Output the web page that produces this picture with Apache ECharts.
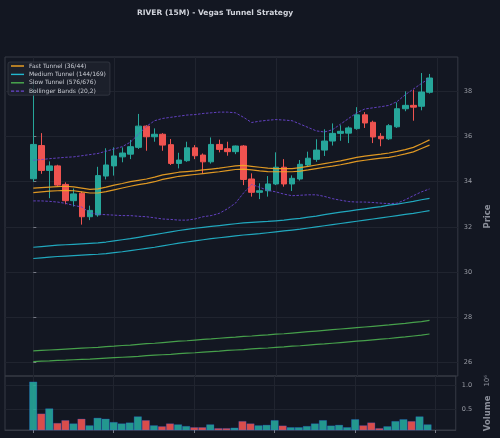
<!DOCTYPE html>
<html><head><meta charset="utf-8">
<script src="https://cdn.jsdelivr.net/npm/echarts@6/dist/echarts.min.js"></script>
<style>html,body{margin:0;padding:0;background:#131722;}#c{width:500px;height:438px;}</style>
</head><body><div id="c"></div>
<script>
// ---- data ----
const opens  = [34.13,35.6,34.5,34.7,33.88,33.16,33.49,32.45,32.53,34.25,34.7,35.1,35.22,35.52,36.46,35.99,36.1,35.64,34.81,34.93,35.5,35.18,34.88,35.65,35.46,35.33,35.58,34.12,33.53,33.6,33.9,34.64,33.9,34.12,34.74,34.99,35.4,35.8,36.14,36.15,36.35,36.96,36.63,36.01,35.9,36.43,37.23,37.38,37.34,37.96];
const highs  = [38.4,36.15,34.9,34.75,33.97,33.7,33.56,32.94,34.66,35.48,35.52,35.52,35.85,37.0,36.5,36.36,36.15,35.89,35.28,35.77,35.62,35.25,35.96,35.86,35.77,35.6,35.62,34.37,33.93,34.25,35.3,35.0,34.28,34.96,35.33,35.88,36.32,36.58,36.5,36.45,37.3,37.08,36.7,36.15,36.55,37.51,38.0,38.07,38.81,38.77];
const lows   = [34.0,34.35,33.27,33.8,33.0,32.9,32.1,32.3,32.45,34.1,34.27,34.86,35.0,35.45,35.37,35.77,35.37,34.74,34.59,34.88,35.0,34.37,34.8,35.3,35.15,35.22,33.85,33.34,33.23,33.34,33.85,33.78,33.59,34.05,34.67,34.88,35.14,35.6,35.81,35.71,36.3,36.38,35.71,35.57,35.85,36.38,37.12,36.7,37.16,37.9];
const closes = [35.65,34.5,34.7,33.85,33.16,33.46,32.45,32.73,34.27,34.74,35.14,35.27,35.55,36.46,35.99,36.1,35.62,34.81,34.96,35.5,35.15,34.88,35.65,35.43,35.33,35.58,34.1,33.53,33.6,33.9,34.64,33.9,34.15,34.77,35.04,35.4,35.8,36.14,36.23,36.38,36.96,36.6,35.98,35.9,36.48,37.23,37.38,37.3,37.97,38.59];
const volumes = [1.08,0.40,0.51,0.20,0.26,0.19,0.29,0.15,0.31,0.29,0.22,0.19,0.21,0.34,0.26,0.15,0.13,0.19,0.17,0.135,0.11,0.11,0.17,0.09,0.09,0.10,0.24,0.19,0.15,0.16,0.26,0.145,0.11,0.11,0.135,0.19,0.26,0.145,0.16,0.11,0.28,0.15,0.21,0.09,0.13,0.24,0.28,0.24,0.34,0.17];

const fastA = [33.72,33.74,33.76,33.78,33.8,33.77,33.72,33.66,33.68,33.76,33.85,33.92,34.0,34.06,34.12,34.2,34.3,34.36,34.42,34.45,34.48,34.52,34.56,34.6,34.65,34.7,34.72,34.68,34.64,34.6,34.58,34.58,34.58,34.62,34.68,34.74,34.8,34.86,34.92,35.0,35.08,35.13,35.18,35.22,35.27,35.34,35.42,35.52,35.68,35.85];
const fastB = [33.52,33.55,33.58,33.6,33.62,33.6,33.55,33.5,33.5,33.56,33.64,33.72,33.8,33.87,33.93,34.0,34.1,34.17,34.24,34.28,34.32,34.36,34.4,34.44,34.49,34.54,34.56,34.52,34.48,34.45,34.44,34.44,34.44,34.47,34.52,34.58,34.64,34.69,34.75,34.82,34.9,34.95,35.0,35.04,35.08,35.15,35.23,35.32,35.47,35.62];
const medA = [31.1,31.13,31.16,31.19,31.21,31.23,31.25,31.27,31.29,31.33,31.38,31.43,31.48,31.54,31.6,31.66,31.72,31.78,31.84,31.89,31.94,31.98,32.02,32.06,32.1,32.14,32.18,32.2,32.22,32.24,32.27,32.3,32.34,32.38,32.43,32.48,32.54,32.6,32.65,32.7,32.75,32.8,32.85,32.9,32.96,33.01,33.07,33.13,33.2,33.26];
const medB = [30.6,30.63,30.66,30.69,30.71,30.73,30.75,30.77,30.79,30.82,30.86,30.9,30.95,31.0,31.05,31.1,31.16,31.22,31.28,31.33,31.38,31.43,31.48,31.52,31.56,31.6,31.64,31.67,31.7,31.74,31.78,31.82,31.86,31.9,31.95,32.0,32.05,32.1,32.15,32.2,32.25,32.3,32.35,32.4,32.45,32.5,32.55,32.6,32.66,32.72];
const slowA = [26.51,26.53,26.55,26.57,26.59,26.61,26.63,26.65,26.67,26.7,26.72,26.75,26.77,26.8,26.83,26.85,26.88,26.91,26.94,26.96,26.99,27.02,27.04,27.07,27.1,27.12,27.15,27.17,27.2,27.22,27.25,27.27,27.3,27.33,27.36,27.39,27.42,27.45,27.48,27.51,27.54,27.57,27.6,27.63,27.66,27.7,27.73,27.77,27.81,27.86];
const slowB = [26.04,26.06,26.07,26.09,26.1,26.12,26.14,26.15,26.17,26.19,26.21,26.23,26.25,26.27,26.3,26.32,26.34,26.36,26.39,26.41,26.43,26.46,26.48,26.5,26.53,26.55,26.57,26.6,26.62,26.64,26.67,26.69,26.72,26.74,26.77,26.8,26.82,26.85,26.88,26.91,26.94,26.97,27.0,27.03,27.06,27.1,27.13,27.17,27.21,27.26];
const bbUpper = [34.95,34.98,35.02,35.05,35.08,35.1,35.15,35.2,35.25,35.35,35.45,35.55,35.75,36.1,36.45,36.7,36.8,36.85,36.9,36.95,36.97,37.02,37.05,37.08,37.08,37.05,36.85,36.62,36.68,36.72,36.75,36.73,36.7,36.55,36.4,36.25,36.2,36.3,36.55,36.8,37.05,37.22,37.27,37.32,37.38,37.55,37.85,38.1,38.35,38.58];
const bbLower = [33.15,33.15,33.13,33.1,33.04,32.95,32.88,32.62,32.56,32.54,32.52,32.5,32.5,32.47,32.45,32.4,32.35,32.33,32.3,32.3,32.35,32.45,32.5,32.6,32.8,33.05,33.5,33.88,33.75,33.62,33.55,33.45,33.38,33.4,33.42,33.42,33.35,33.25,33.18,33.12,33.1,33.1,33.08,33.05,33.03,33.05,33.2,33.38,33.55,33.68];

const xTicks = [0,10,20,30,40,50];
const priceTicks = [26,28,30,32,34,36,38];
const volTicks = [0.5,1.0];

const titleText = 'RIVER (15M) - Vegas Tunnel Strategy';
const nFast = 'Fast Tunnel (36/44)';
const nMed = 'Medium Tunnel (144/169)';
const nSlow = 'Slow Tunnel (576/676)';
const nBB = 'Bollinger Bands (20,2)';

// ---- chart ----
const FONT = 'DejaVu Sans';
const UP = '#26a69a', DOWN = '#ef5350';
const GRIDC = '#20242f', FRAME = '#363a45', LBL = '#9a9da6';
const idx = opens.map((_, i) => i);
const pts = arr => arr.map((v, i) => [i, v]);
const ICON_SOLID = 'path://M0,0H13V1.4H0Z';
const ICON_DASH = 'path://M0,0H3V1.2H0Z M4.6,0H7.6V1.2H4.6Z M9.2,0H12.2V1.2H9.2Z';

function lineSeries(name, arr, color, width, type) {
  return {
    type: 'line', name, data: pts(arr), xAxisIndex: 0, yAxisIndex: 0,
    symbol: 'none', silent: true, z: 4,
    lineStyle: { color, width, opacity: 0.9, type: type || 'solid' },
    itemStyle: { color }
  };
}

const chart = echarts.init(document.getElementById('c'));
chart.setOption({
  backgroundColor: '#131722',
  animation: false,
  textStyle: { fontFamily: FONT },
  title: {
    text: titleText, left: 132, top: 4,
    textStyle: { color: '#d1d4dc', fontSize: 7.5, fontWeight: 'bold', fontFamily: FONT }
  },
  legend: {
    left: 8, top: 62, orient: 'vertical',
    itemWidth: 13, itemHeight: 1.4, itemGap: 1.4,
    padding: [0.5, 4, 0.5, 3],
    backgroundColor: 'rgba(30,34,45,0.85)', borderColor: FRAME, borderWidth: 0.8, borderRadius: 2,
    textStyle: { color: '#c8cbd3', fontSize: 6, fontFamily: FONT, lineHeight: 7 },
    data: [
      { name: nFast, icon: ICON_SOLID },
      { name: nMed, icon: ICON_SOLID },
      { name: nSlow, icon: ICON_SOLID },
      { name: nBB, icon: ICON_DASH }
    ]
  },
  grid: [
    { left: 5, right: 36, top: 57, height: 319, show: true, borderColor: FRAME, borderWidth: 1, backgroundColor: 'transparent' },
    { left: 5, right: 36, top: 376, height: 54, show: true, borderColor: FRAME, borderWidth: 1, backgroundColor: 'transparent' }
  ],
  xAxis: [
    { type: 'value', gridIndex: 0, min: -3.5, max: 52.5,
      axisLine: { show: false }, axisTick: { show: false, customValues: xTicks },
      axisLabel: { show: false, customValues: xTicks },
      splitLine: { show: true, lineStyle: { color: GRIDC, width: 1 } } },
    { type: 'value', gridIndex: 1, min: -3.5, max: 52.5,
      axisLine: { show: true, onZero: false, lineStyle: { color: FRAME } },
      axisTick: { show: true, customValues: xTicks, length: 3, lineStyle: { color: '#787b86' } },
      axisLabel: { show: false, customValues: xTicks },
      splitLine: { show: true, lineStyle: { color: GRIDC, width: 1 } } }
  ],
  yAxis: [
    { type: 'value', gridIndex: 0, position: 'right', min: 25.4, max: 39.52,
      axisLine: { show: false },
      axisTick: { show: true, customValues: priceTicks, length: 3, lineStyle: { color: '#787b86' } },
      axisLabel: { customValues: priceTicks, color: LBL, fontSize: 6.5, margin: 6, fontFamily: FONT, formatter: v => String(v) },
      splitLine: { show: true, lineStyle: { color: GRIDC, width: 1 } },
      name: 'Price', nameLocation: 'middle', nameGap: 18,
      nameTextStyle: { color: '#8a8e99', fontWeight: 'bold', fontSize: 8.5, fontFamily: FONT } },
    { type: 'value', gridIndex: 1, position: 'right', min: 0.05, max: 1.2,
      axisLine: { show: false },
      axisTick: { show: true, customValues: volTicks, length: 3, lineStyle: { color: '#787b86' } },
      axisLabel: { customValues: volTicks, color: LBL, fontSize: 6.5, margin: 6, fontFamily: FONT, formatter: v => v.toFixed(1) },
      splitLine: { show: true, lineStyle: { color: GRIDC, width: 1 } },
      name: '{v|Volume}{n|10⁶}', nameLocation: 'middle', nameGap: 18,
      nameTextStyle: { color: '#8a8e99', fontFamily: FONT,
        rich: { v: { fontWeight: 'bold', fontSize: 8.5, color: '#8a8e99', fontFamily: FONT },
                n: { fontSize: 7, color: '#8a8e99', padding: [0, 0, 0, 9], fontFamily: FONT } } } }
  ],
  series: [
    { type: 'candlestick', name: 'Price', xAxisIndex: 0, yAxisIndex: 0, z: 2,
      data: idx.map(i => [i, opens[i], closes[i], lows[i], highs[i]]),
      encode: { x: 0, y: [1, 2, 3, 4] },
      barWidth: 6,
      itemStyle: { color: UP, color0: DOWN, borderColor: UP, borderColor0: DOWN, borderWidth: 1 } },
    lineSeries(nFast, fastA, '#f5a623', 1.2),
    lineSeries(nFast, fastB, '#f5a623', 1.2),
    lineSeries(nMed, medA, '#22b8cf', 1.2),
    lineSeries(nMed, medB, '#22b8cf', 1.2),
    lineSeries(nSlow, slowA, '#4caf50', 1.2),
    lineSeries(nSlow, slowB, '#4caf50', 1.2),
    lineSeries(nBB, bbUpper, '#6a45d0', 1, [2.5, 1.5]),
    lineSeries(nBB, bbLower, '#6a45d0', 1, [2.5, 1.5]),
    { type: 'bar', name: 'Volume', xAxisIndex: 1, yAxisIndex: 1, barWidth: 8, clip: true,
      data: idx.map(i => ({ value: [i, volumes[i]],
        itemStyle: { color: closes[i] >= opens[i] ? UP : DOWN } })),
      itemStyle: { opacity: 0.9, borderColor: 'rgba(41,98,255,0.45)', borderWidth: 0.6 } }
  ]
});
</script></body></html>
